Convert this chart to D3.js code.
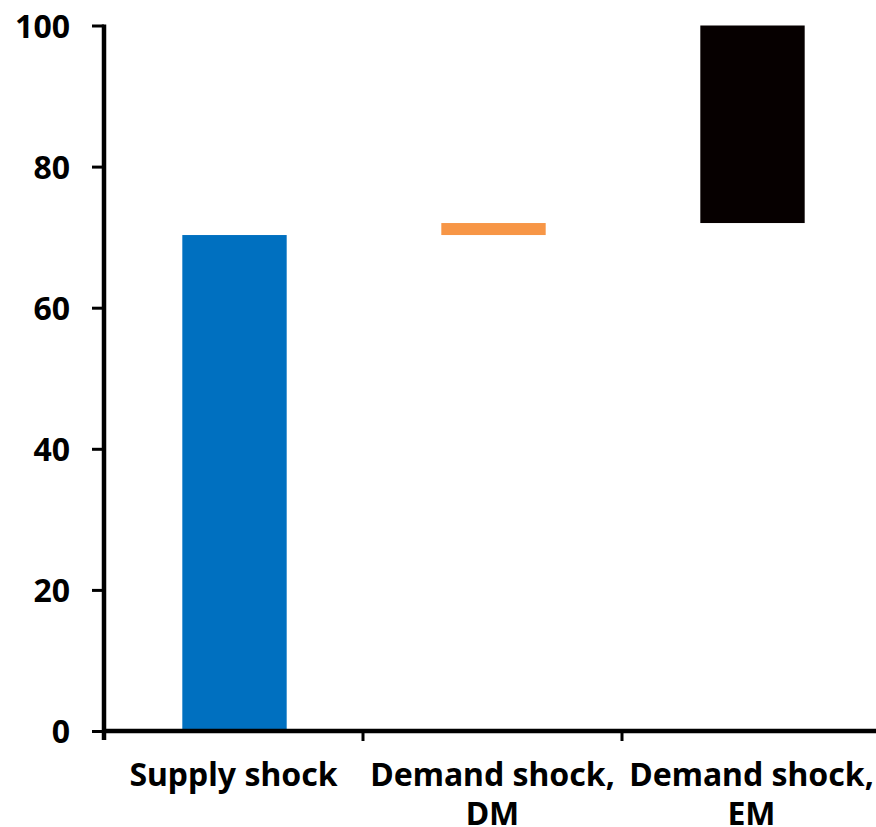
<!DOCTYPE html>
<html>
<head>
<meta charset="utf-8">
<script src="https://cdn.jsdelivr.net/npm/d3@7/dist/d3.min.js"></script>
<style>
  html, body { margin: 0; padding: 0; background: #ffffff; }
  svg text { font-family: "Noto Sans", "Liberation Sans", sans-serif; font-weight: bold; fill: #000; }
</style>
</head>
<body>
<svg id="chart" width="876" height="827"></svg>
<script>
// Waterfall: each category's bar runs from its start value to its end value
const categories = ["Supply shock", "Demand shock, DM", "Demand shock, EM"];
const categoryLines = [["Supply shock"], ["Demand shock,", "DM"], ["Demand shock,", "EM"]];
const barStart = [0, 70.3, 72.0];
const barEnd = [70.3, 72.0, 100];
const barColors = ["#0070C0", "#F79646", "#060000"];
const yTicks = [0, 20, 40, 60, 80, 100];

const svg = d3.select("#chart");
const plot = { left: 104, right: 881, top: 25.5, bottom: 731 };

const x = d3.scaleBand()
  .domain(categories)
  .range([plot.left, plot.right])
  .paddingInner(0)
  .paddingOuter(0);

const y = d3.scaleLinear()
  .domain([0, 100])
  .range([plot.bottom, plot.top]);

const barWidth = x.bandwidth() * 0.403;

// bars
svg.append("g")
  .selectAll("rect")
  .data(categories)
  .join("rect")
  .attr("x", (d) => x(d) + x.bandwidth() / 2 - barWidth / 2 + 1)
  .attr("width", barWidth)
  .attr("y", (d, i) => y(barEnd[i]))
  .attr("height", (d, i) => y(barStart[i]) - y(barEnd[i]))
  .attr("fill", (d, i) => barColors[i]);

// y axis
const yAxis = svg.append("g")
  .attr("transform", `translate(${plot.left},0)`)
  .call(d3.axisLeft(y).tickValues(yTicks).tickSize(12).tickPadding(22));
yAxis.select(".domain").remove();
yAxis.selectAll(".tick line").attr("stroke", "#000").attr("stroke-width", 3);
yAxis.selectAll(".tick text").attr("font-size", 32).attr("dy", "0.36em");
yAxis.append("line")
  .attr("x1", 0).attr("x2", 0)
  .attr("y1", plot.top - 1).attr("y2", plot.bottom + 9)
  .attr("stroke", "#000").attr("stroke-width", 4.5);

// x axis: ticks sit at the category boundaries
const boundaries = categories.map((c) => x(c)).concat([plot.right]);
const xAxis = svg.append("g");
xAxis.append("line")
  .attr("x1", plot.left).attr("x2", 876)
  .attr("y1", plot.bottom).attr("y2", plot.bottom)
  .attr("stroke", "#000").attr("stroke-width", 4.5);
xAxis.selectAll("line.tick")
  .data(boundaries.slice(1, 3))
  .join("line")
  .attr("class", "tick")
  .attr("x1", (d) => d).attr("x2", (d) => d)
  .attr("y1", plot.bottom).attr("y2", plot.bottom + 10)
  .attr("stroke", "#000").attr("stroke-width", 3);

// category labels
const labels = xAxis.selectAll("text")
  .data(categories)
  .join("text")
  .attr("x", (d) => x(d) + x.bandwidth() / 2)
  .attr("y", 786)
  .attr("text-anchor", "middle")
  .attr("font-size", 32);
labels.each(function (d, i) {
  const t = d3.select(this);
  categoryLines[i].forEach((line, k) => {
    t.append("tspan")
      .attr("x", x(d) + x.bandwidth() / 2)
      .attr("dy", k === 0 ? 0 : 39)
      .text(line);
  });
});
</script>
</body>
</html>
